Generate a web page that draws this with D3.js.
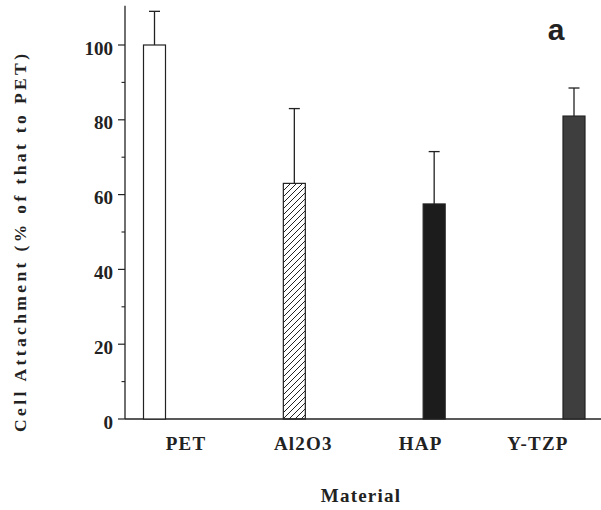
<!DOCTYPE html>
<html><head><meta charset="utf-8">
<script src="https://cdn.jsdelivr.net/npm/d3@7"></script>
<style>body{margin:0;background:#fff}svg{display:block}</style>
</head><body>
<script>
const categories = ["PET", "Al2O3", "HAP", "Y-TZP"];
const tickLabels = ["PET", "Al2O3", "HAP", "Y-TZP"];
const means = [100, 63, 57.5, 81];
const errTops = [109, 83, 71.5, 88.5];
const yTicks = [0, 20, 40, 60, 80, 100];
const yMinorTicks = [10, 30, 50, 70, 90];

const W = 601, H = 510;
const svg = d3.select("body").append("svg").attr("width", W).attr("height", H);
const defs = svg.append("defs");
const pat = defs.append("pattern").attr("id", "hatch").attr("patternUnits", "userSpaceOnUse")
  .attr("width", 6).attr("height", 6);
pat.append("path").attr("d", "M0,6 L6,0 M-1.5,1.5 L1.5,-1.5 M4.5,7.5 L7.5,4.5")
  .attr("stroke", "#222").attr("stroke-width", 1);

const fills = ["#ffffff", "url(#hatch)", "#1c1c1c", "#3e3e3e"];

const y = d3.scaleLinear().domain([0, 100]).range([419, 45]);
const x = d3.scalePoint().domain(categories).range([154.5, 574]);
const xl = d3.scalePoint().domain(categories).range([186, 538]);
const barW = 22, capW = 11;
const serif = "'Liberation Serif','Times New Roman',serif";
const ink = "#222";

svg.append("line").attr("x1", 125).attr("x2", 601).attr("y1", y(0)).attr("y2", y(0))
  .attr("stroke", ink).attr("stroke-width", 1.3);
svg.append("line").attr("x1", 125).attr("x2", 125).attr("y1", y(0)).attr("y2", y(110.5))
  .attr("stroke", ink).attr("stroke-width", 1.3);

svg.selectAll(".maj").data(yTicks).join("line")
  .attr("x1", 118).attr("x2", 125).attr("y1", d => y(d)).attr("y2", d => y(d))
  .attr("stroke", ink).attr("stroke-width", 1.2);
svg.selectAll(".min").data(yMinorTicks).join("line")
  .attr("x1", 121.5).attr("x2", 125).attr("y1", d => y(d)).attr("y2", d => y(d))
  .attr("stroke", ink).attr("stroke-width", 1.1);
svg.selectAll(".ytl").data(yTicks).join("text")
  .attr("x", 113).attr("y", d => y(d) + 9.5)
  .attr("text-anchor", "end").attr("font-family", serif).attr("font-weight", "bold")
  .attr("font-size", 19).attr("fill", ink).text(d => d);

svg.selectAll(".bar").data(categories).join("rect")
  .attr("x", d => x(d) - barW / 2).attr("width", barW)
  .attr("y", (d, i) => y(means[i])).attr("height", (d, i) => y(0) - y(means[i]))
  .attr("fill", (d, i) => fills[i]).attr("stroke", ink).attr("stroke-width", 1.2);

svg.selectAll(".err").data(categories).join("line")
  .attr("x1", d => x(d)).attr("x2", d => x(d))
  .attr("y1", (d, i) => y(means[i])).attr("y2", (d, i) => y(errTops[i]))
  .attr("stroke", ink).attr("stroke-width", 1.3);
svg.selectAll(".cap").data(categories).join("line")
  .attr("x1", d => x(d) - capW / 2).attr("x2", d => x(d) + capW / 2)
  .attr("y1", (d, i) => y(errTops[i])).attr("y2", (d, i) => y(errTops[i]))
  .attr("stroke", ink).attr("stroke-width", 1.3);

svg.selectAll(".xtl").data(categories).join("text")
  .attr("x", d => xl(d)).attr("y", 450)
  .attr("text-anchor", "middle").attr("font-family", serif).attr("font-weight", "bold")
  .attr("font-size", 19).attr("letter-spacing", "1.2px").attr("fill", ink)
  .text((d, i) => tickLabels[i]);

svg.append("text").attr("x", 361).attr("y", 502).attr("text-anchor", "middle")
  .attr("font-family", serif).attr("font-weight", "bold").attr("font-size", 19)
  .attr("letter-spacing", "1.2px").attr("fill", ink).text("Material");

svg.append("text").attr("transform", "translate(26,243) rotate(-90)")
  .attr("text-anchor", "middle").attr("font-family", serif).attr("font-weight", "bold")
  .attr("font-size", 17.5).attr("textLength", 378).attr("lengthAdjust", "spacing")
  .attr("fill", ink).text("Cell Attachment (% of that to PET)");

svg.append("text").attr("x", 556).attr("y", 40).attr("text-anchor", "middle")
  .attr("font-family", "'Liberation Sans',Arial,sans-serif").attr("font-weight", "bold")
  .attr("font-size", 30).attr("fill", ink).text("a");
</script>
</body></html>
